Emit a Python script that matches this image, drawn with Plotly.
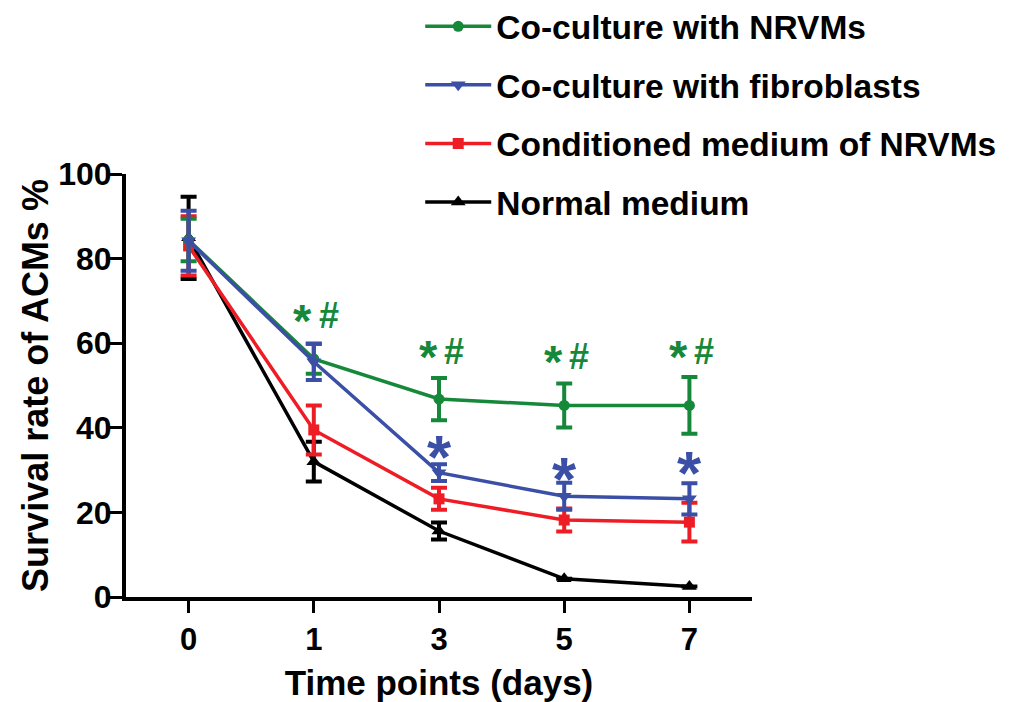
import plotly.graph_objects as go

days = ["0", "1", "3", "5", "7"]

series_names = ["Co-culture with NRVMs", "Co-culture with fibroblasts",
                "Conditioned medium of NRVMs", "Normal medium"]
nrvm_coculture = [84.4, 56.3, 46.8, 45.3, 45.3]
nrvm_coculture_err = [5.0, 3.5, 5.0, 5.2, 6.7]
fibro_coculture = [84.2, 55.6, 29.4, 23.8, 23.2]
fibro_coculture_err = [7.1, 4.3, 2.0, 3.2, 3.7]
conditioned = [83.0, 39.5, 23.2, 18.2, 17.7]
conditioned_err = [7.0, 5.8, 2.6, 2.7, 4.6]
normal = [84.9, 32.0, 15.6, 4.3, 2.5]
normal_err = [9.7, 4.7, 2.0, 0.0, 0.0]

# significance marks: "*" and "#" above the NRVM co-culture, "*" above fibroblasts
green_sig_days = ["1", "3", "5", "7"]
green_sig_y = [66.7, 58.2, 57.0, 58.2]
blue_sig_days = ["3", "5", "7"]
blue_sig_y = [35.5, 30.3, 31.7]

GREEN = "#16883a"
BLUE = "#3b4fa6"
RED = "#ee1d25"
BLACK = "#000000"
FONT = "Liberation Sans"

fig = go.Figure()

def add(name, y, err, color, symbol, rank, size=11):
    fig.add_trace(go.Scatter(
        x=days, y=y, name=name, mode="lines+markers",
        line=dict(color=color, width=3.5),
        marker=dict(symbol=symbol, size=size, color=color),
        error_y=dict(type="data", array=err, visible=True, color=color,
                     thickness=4, width=8),
        legendrank=rank, legendgroup=name, cliponaxis=False,
    ))

add(series_names[3], normal, normal_err, BLACK, "triangle-up", 4, 13)
add(series_names[2], conditioned, conditioned_err, RED, "square", 3, 11)
add(series_names[0], nrvm_coculture, nrvm_coculture_err, GREEN, "circle", 1, 11)
add(series_names[1], fibro_coculture, fibro_coculture_err, BLUE, "triangle-down", 2, 13)

annotations = []
for d, yv in zip(green_sig_days, green_sig_y):
    xi = days.index(d)
    annotations.append(dict(x=xi, y=yv, xref="x", yref="y", text="*",
                            showarrow=False, xshift=-11, yshift=-6,
                            font=dict(family=FONT, size=47, color=GREEN, weight="bold")))
    annotations.append(dict(x=xi, y=yv, xref="x", yref="y", text="#",
                            showarrow=False, xshift=15, yshift=-1,
                            font=dict(family=FONT, size=36, color=GREEN, weight="bold")))
for d, yv in zip(blue_sig_days, blue_sig_y):
    xi = days.index(d)
    annotations.append(dict(x=xi, y=yv, xref="x", yref="y", text="*",
                            showarrow=False, yshift=-10,
                            font=dict(family=FONT, size=62, color=BLUE, weight="bold")))

fig.update_layout(
    width=1013, height=702,
    margin=dict(l=126, r=261, t=174, b=105, autoexpand=False),
    plot_bgcolor="white", paper_bgcolor="white",
    font=dict(family=FONT, color="black", size=30, weight="bold"),
    showlegend=True,
    legend=dict(x=0.47, y=1.416, xanchor="left", yanchor="top",
                font=dict(family=FONT, size=33.5, color="black", weight="bold"),
                itemwidth=66, tracegroupgap=12, bgcolor="rgba(0,0,0,0)"),
    annotations=annotations,
    xaxis=dict(type="category", categoryorder="array", categoryarray=days,
               range=[-0.5, 4.5], showline=True, linecolor="black", linewidth=4,
               ticks="outside", ticklen=12, tickwidth=3, tickcolor="black",
               showgrid=False, zeroline=False, automargin=False,
               tickfont=dict(family=FONT, size=31, weight="bold"),
               title=dict(text="Time points (days)",
                          font=dict(family=FONT, size=35, weight="bold"), standoff=18)),
    yaxis=dict(range=[0, 100], tickvals=[0, 20, 40, 60, 80, 100],
               showline=True, linecolor="black", linewidth=4,
               ticks="outside", ticklen=12, tickwidth=3, tickcolor="black",
               showgrid=False, zeroline=False, automargin=False,
               ticklabelstandoff=-8,
               tickfont=dict(family=FONT, size=32, weight="bold"),
               title=dict(text="Survival rate of ACMs %",
                          font=dict(family=FONT, size=36, weight="bold"), standoff=0)),
)

fig.write_html("out.html")
